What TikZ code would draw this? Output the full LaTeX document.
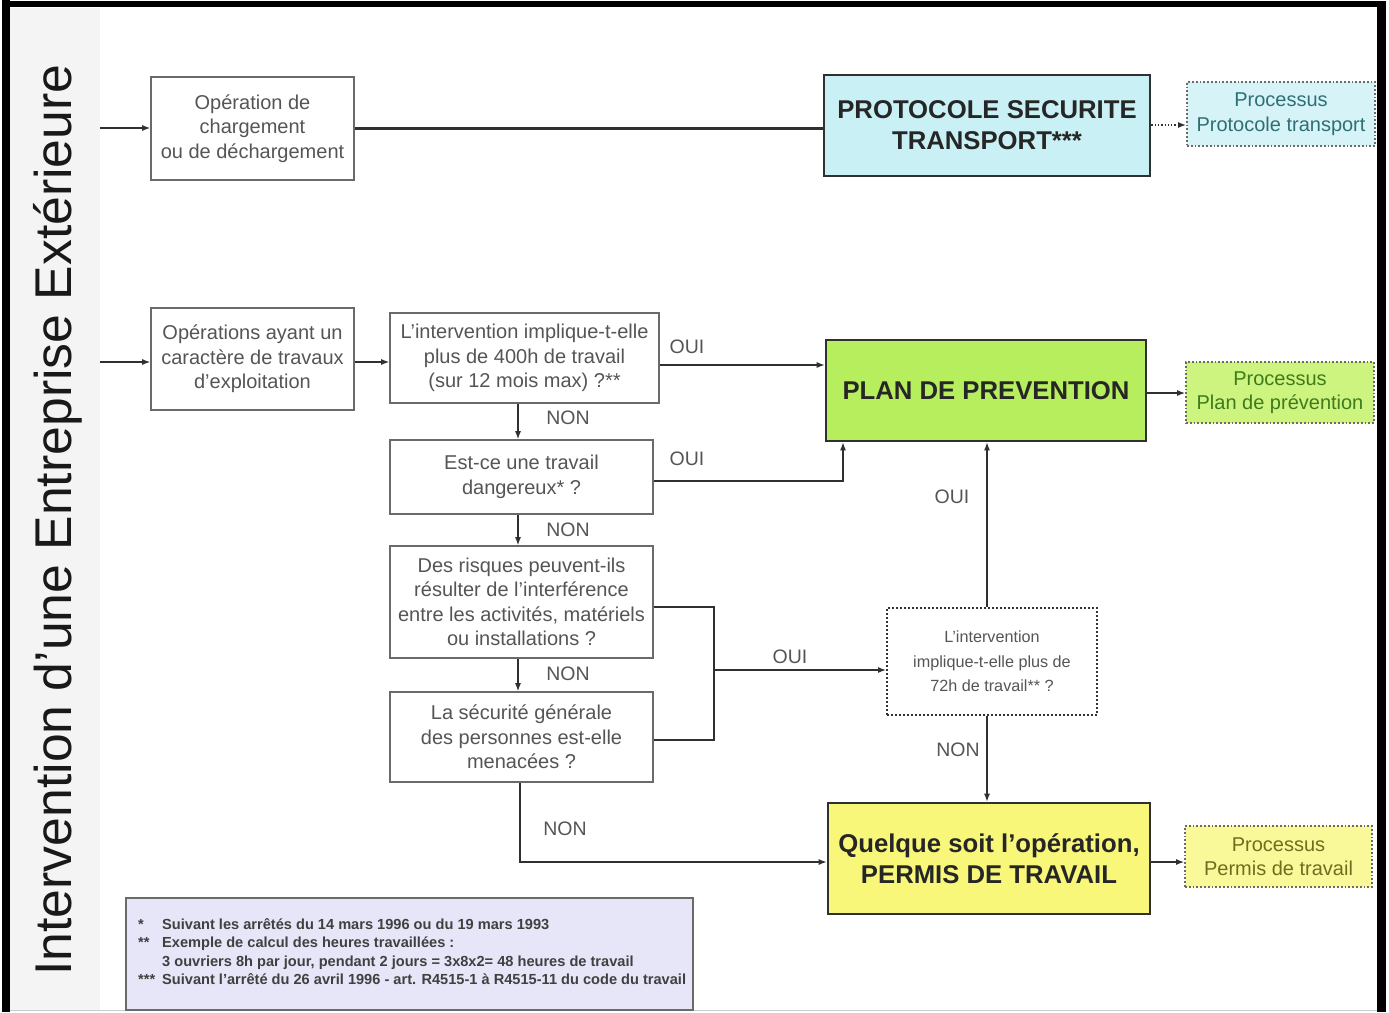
\documentclass[tikz,border=0pt]{standalone}
\usepackage{fontspec}
\setmainfont{Liberation Sans}
\usetikzlibrary{arrows.meta}
\definecolor{qgray}{HTML}{6A6A6A}
\definecolor{tgray}{HTML}{555555}
\definecolor{lgray}{HTML}{303030}
\definecolor{cyanA}{HTML}{C8F0F5}
\definecolor{cyanB}{HTML}{D6F4F8}
\definecolor{greenA}{HTML}{B6EE5E}
\definecolor{greenB}{HTML}{CDF47E}
\definecolor{yellA}{HTML}{F8F77A}
\definecolor{yellB}{HTML}{FAF99A}
\definecolor{lav}{HTML}{E6E6F8}
\definecolor{tcyan}{HTML}{2E6F75}
\definecolor{tgreen}{HTML}{3E7A1E}
\definecolor{tyell}{HTML}{6E6E20}
\definecolor{side}{HTML}{F4F4F4}
\newcommand\qf{\fontsize{20}{24.5}\selectfont}
\newcommand\bigf{\fontsize{25.7}{31}\selectfont\bfseries}
\tikzset{
  qbox/.style={draw=qgray, line width=1.6pt, text=tgray, align=center, font=\qf, inner sep=0pt},
  bigbox/.style={draw=lgray, line width=2.6pt, text=black!85, align=center, font=\bigf, inner sep=0pt},
  procbox/.style={draw=qgray, dotted, line width=1.8pt, align=center, font=\qf, inner sep=0pt},
  conn/.style={draw=lgray, line width=1.3pt},
  arr/.style={conn, -{Latex[length=8pt,width=6pt]}},
  lab/.style={text=tgray, font=\fontsize{19.5}{20}\selectfont, inner sep=0pt}
}
\begin{document}
\begin{tikzpicture}[x=1pt,y=-1pt]
\useasboundingbox (0,0) rectangle (1389,1012);
\fill[white] (0,0) rectangle (1389,1012);
% sidebar
\fill[side] (10,8) rectangle (100,1010);
\draw[gray!40, line width=1pt] (10,1010) -- (1380,1010);
% frame
\fill[black] (2,0) rectangle (10,1012);
\fill[black] (2,1) rectangle (1386,7);
\fill[black] (1377,1) rectangle (1386,1012);
\node[rotate=90, text=black!90, font=\fontsize{51.7}{52}\selectfont, inner sep=0pt] (title) at (58,520) {Intervention d’une Entreprise Extérieure};

% nodes
\node[qbox, minimum width=203, minimum height=103] (op1) at (252.5,128.5) {Opération de\\chargement\\ou de déchargement};
\node[bigbox, fill=cyanA, minimum width=326, minimum height=101] (pst) at (987,125.5) {PROTOCOLE SECURITE\\TRANSPORT***};
\node[procbox, fill=cyanB, text=tcyan, minimum width=188, minimum height=64] (proc1) at (1281,114) {Processus\\Protocole transport};

\node[qbox, minimum width=203, minimum height=102] (op2) at (252.5,359) {Opérations ayant un\\caractère de travaux\\d’exploitation};
\node[qbox, minimum width=269, minimum height=90] (q1) at (524.5,358) {L’intervention implique-t-elle\\plus de 400h de travail\\(sur 12 mois max) ?**};
\node[bigbox, fill=greenA, minimum width=320, minimum height=101] (pdp) at (986,390.5) {PLAN DE PREVENTION};
\node[procbox, fill=greenB, text=tgreen, minimum width=188, minimum height=61] (proc2) at (1280,392.5) {Processus\\Plan de prévention};

\node[qbox, minimum width=263, minimum height=74] (q2) at (521.5,477) {Est-ce une travail\\dangereux* ?};
\node[qbox, minimum width=263, minimum height=112] (q3) at (521.5,602) {Des risques peuvent-ils\\résulter de l’interférence\\entre les activités, matériels\\ou installations ?};
\node[qbox, minimum width=263, minimum height=90] (q4) at (521.5,737) {La sécurité générale\\des personnes est-elle\\menacées ?};
\node[draw=black!80, dotted, line width=2pt, text=tgray, align=center, font=\fontsize{16.2}{24.5}\selectfont, inner sep=0pt, minimum width=210, minimum height=107] (q5) at (992,661.5) {L’intervention\\implique-t-elle plus de\\72h de travail** ?};

\node[bigbox, fill=yellA, minimum width=322, minimum height=111] (pt) at (989,858.5) {Quelque soit l’opération,\\PERMIS DE TRAVAIL};
\node[procbox, fill=yellB, text=tyell, minimum width=187, minimum height=61] (proc3) at (1278.5,856.5) {Processus\\Permis de travail};

\node[draw=qgray, line width=1.8pt, fill=lav, minimum width=567, minimum height=112, inner sep=0pt] (note) at (409.5,954) {};
\node[anchor=north west, text=black!75, font=\fontsize{14.6}{18.5}\selectfont\bfseries, inner sep=0pt] (notetext) at (138,916) {\setlength{\tabcolsep}{0pt}\renewcommand{\arraystretch}{1}%
\begin{tabular}{@{}p{24pt}@{}l@{}}
{*} & Suivant les arrêtés du 14 mars 1996 ou du 19 mars 1993\\\relax
{**} & Exemple de calcul des heures travaillées :\\\relax
 & 3 ouvriers 8h par jour, pendant 2 jours = 3x8x2= 48 heures de travail\\\relax
{***} & Suivant l’arrêté du 26 avril 1996 - art. R4515-1 à R4515-11 du code du travail
\end{tabular}};

% helper coordinates
\coordinate (s1) at (100,128);
\coordinate (s2) at (100,362);
\coordinate (x843) at (843,0);
\coordinate (x987) at (987,0);
\coordinate (x520) at (520,0);
\coordinate (x518) at (518,0);
\coordinate (bx) at (714,670);

% connectors
\draw[arr] (s1) -- (op1.west |- s1);
\draw[arr] (s2) -- (op2.west |- s2);
\draw[conn, line width=2.4pt] (op1.east) -- (pst.west |- op1.east);
\draw[conn, dotted, line width=1.6pt, -{Latex[length=8pt,width=6pt]}] (pst.east |- 0,125) -- (proc1.west |- 0,125);
\draw[arr] (op2.east |- s2) -- (q1.west |- s2);
\draw[arr] (q1.east |- 0,365) -- (pdp.west |- 0,365);
\draw[arr] (pdp.east |- 0,393) -- (proc2.west |- 0,393);
\draw[arr] (q1.south -| x518) -- (q2.north -| x518);
\draw[arr] (q2.east |- 0,481) -| (pdp.south -| x843);
\draw[arr] (q2.south -| x518) -- (q3.north -| x518);
\draw[arr] (q3.south -| x518) -- (q4.north -| x518);
\draw[conn] (q3.east |- 0,607) -| (bx) |- (q4.east |- 0,740);
\draw[arr] (bx) -- (q5.west |- bx);
\draw[arr] (q5.north -| x987) -- (pdp.south -| x987);
\draw[arr] (q5.south -| x987) -- (pt.north -| x987);
\draw[arr] (q4.south -| x520) |- (pt.west |- 0,862);
\draw[arr] (pt.east |- 0,862) -- (proc3.west |- 0,862);

% labels
\node[lab] (l1) at (687,347) {OUI};
\node[lab] (l2) at (568,418) {NON};
\node[lab] (l3) at (687,459) {OUI};
\node[lab] (l4) at (568,530) {NON};
\node[lab] (l5) at (568,674) {NON};
\node[lab] (l6) at (790,657) {OUI};
\node[lab] (l7) at (952,497) {OUI};
\node[lab] (l8) at (958,750) {NON};
\node[lab] (l9) at (565,829) {NON};
\end{tikzpicture}
\end{document}
